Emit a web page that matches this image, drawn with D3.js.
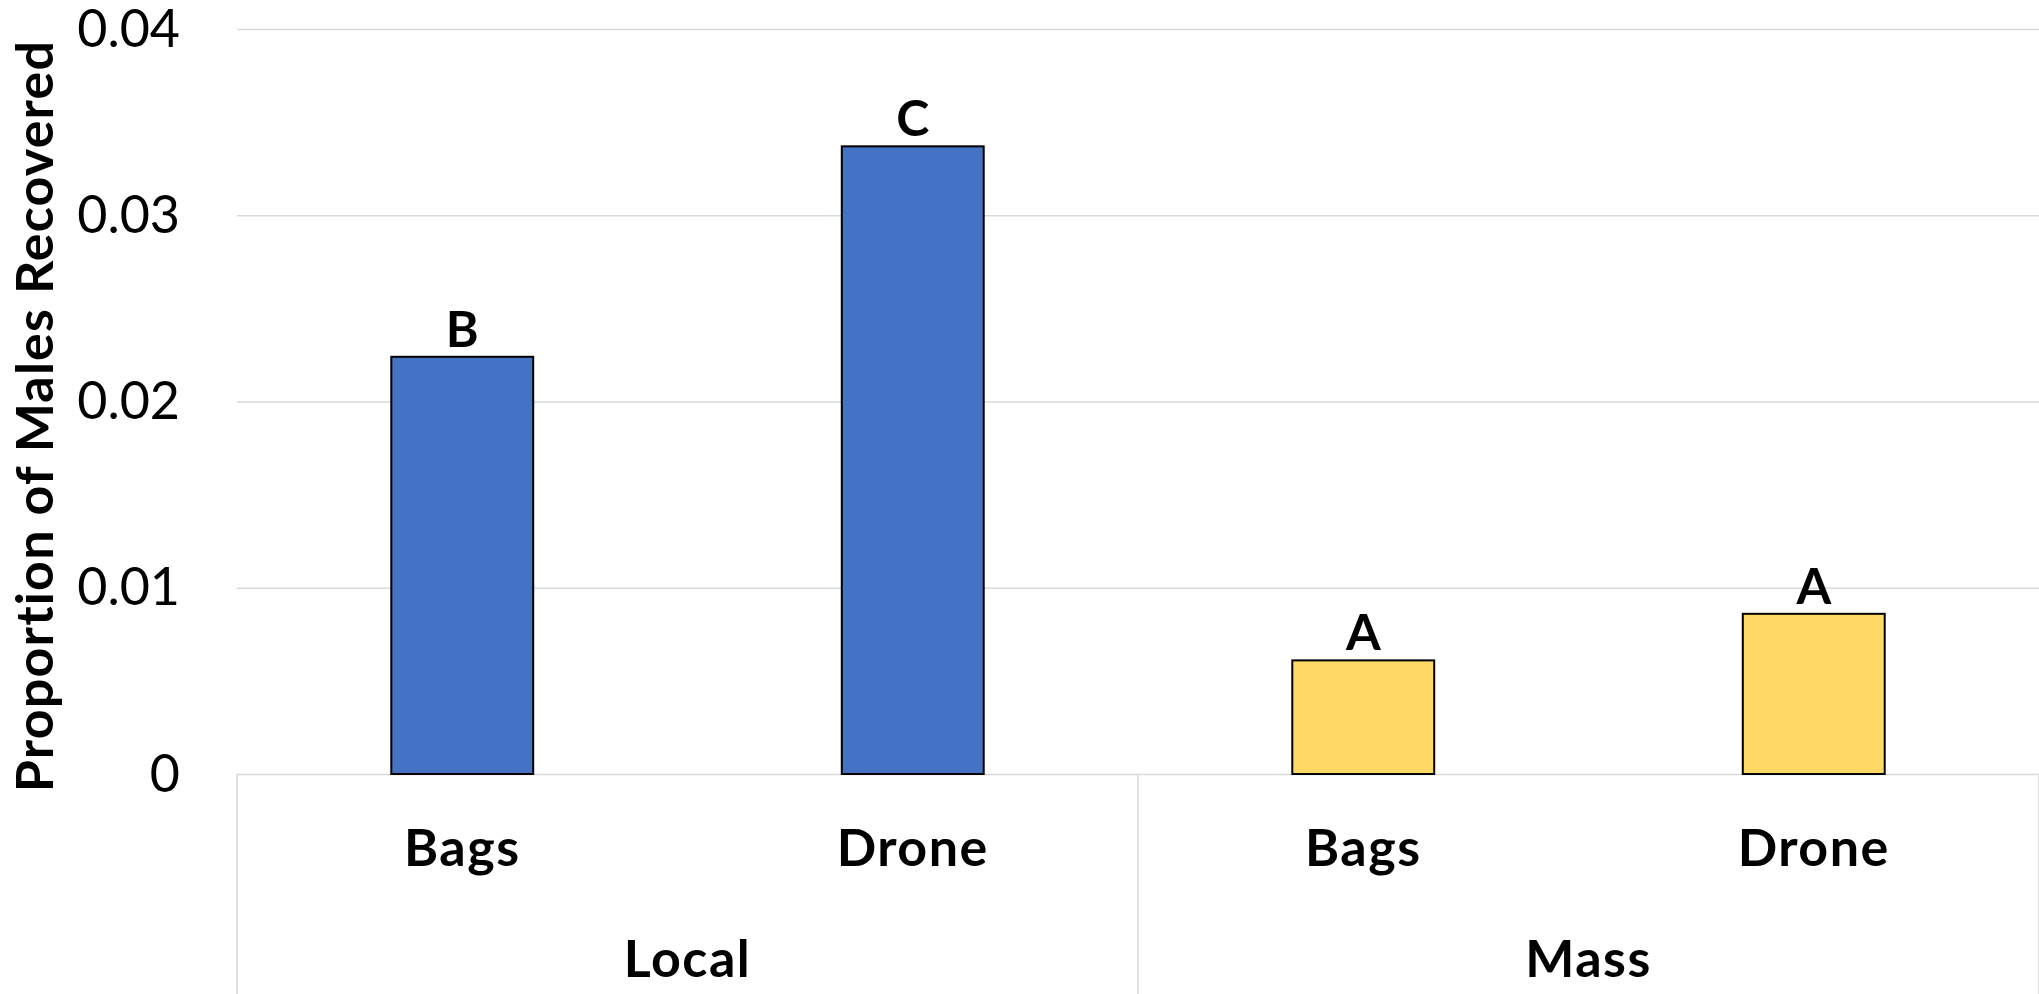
<!DOCTYPE html>
<html>
<head>
<meta charset="utf-8">
<script src="https://cdn.jsdelivr.net/npm/d3@7"></script>
<style>
  html, body { margin: 0; padding: 0; background: #fff; }
  svg { display: block; }
  text { font-family: Lato, "Open Sans", sans-serif; fill: #000; }
</style>
</head>
<body>
<svg id="chart" width="2039" height="994"></svg>
<script>
// Proportion of released males recovered, by release type and collection method
const groups = ["Local", "Mass"];
const methods = ["Bags", "Drone"];
const categories = ["Local|Bags", "Local|Drone", "Mass|Bags", "Mass|Drone"];
const values = [0.0224, 0.0337, 0.0061, 0.0086];
const letters = ["B", "C", "A", "A"];
const groupColors = ["#4472C4", "#FFD966"];
const yTicks = [0, 0.01, 0.02, 0.03, 0.04];
const yTickLabels = ["0", "0.01", "0.02", "0.03", "0.04"];
const yTitle = "Proportion of Males Recovered";

const W = 2039, H = 994;
const margin = { left: 237, right: 0, top: 29, bottom: 220 };
const plotW = W - margin.left - margin.right;
const plotH = H - margin.top - margin.bottom;

const svg = d3.select("#chart");
const g = svg.append("g").attr("transform", `translate(${margin.left},${margin.top})`);

const y = d3.scaleLinear().domain([0, 0.04]).range([plotH, 0]);
const x = d3.scaleBand().domain(categories).range([0, plotW])
  .paddingInner(0.685).paddingOuter(0.3425);
const slot = d3.scaleBand().domain(categories).range([0, plotW]).padding(0);
const xGroup = d3.scaleBand().domain(groups).range([0, plotW]).padding(0);

const gridColor = "#d9d9d9";
const labelSize = 52;
const labelSpacing = 1.5;

// horizontal gridlines (the zero line doubles as the category axis line)
const yAxis = d3.axisLeft(y).tickValues(yTicks).tickSize(-plotW)
  .tickFormat((d, i) => yTickLabels[i]);
const ya = g.append("g").call(yAxis);
ya.select(".domain").remove();
ya.selectAll(".tick line").attr("stroke", gridColor).attr("stroke-width", 1.5);
ya.selectAll(".tick text")
  .attr("x", 180 - margin.left)
  .attr("dy", "0.33em")
  .attr("font-size", 52)
  .attr("font-weight", 400)
  .style("font-family", "Lato, 'Open Sans', sans-serif")
  .attr("fill", "#000");

// group separators below the axis
const seps = [0, ...groups.map(gr => xGroup(gr) + xGroup.bandwidth())];
g.selectAll("line.sep").data(seps).enter().append("line")
  .attr("class", "sep")
  .attr("x1", d => d).attr("x2", d => d)
  .attr("y1", plotH).attr("y2", H - margin.top)
  .attr("stroke", gridColor).attr("stroke-width", 1.5);

// bars
const groupOf = c => c.split("|")[0];
const methodOf = c => c.split("|")[1];
g.selectAll("rect.bar").data(categories).enter().append("rect")
  .attr("class", "bar")
  .attr("x", d => x(d))
  .attr("width", x.bandwidth())
  .attr("y", (d, i) => y(values[i]))
  .attr("height", (d, i) => plotH - y(values[i]))
  .attr("fill", d => groupColors[groups.indexOf(groupOf(d))])
  .attr("stroke", "#000")
  .attr("stroke-width", 2);

// significance letters
g.selectAll("text.letter").data(categories).enter().append("text")
  .attr("class", "letter")
  .attr("x", d => x(d) + x.bandwidth() / 2)
  .attr("y", (d, i) => y(values[i]) - 10)
  .attr("text-anchor", "middle")
  .attr("font-size", 50)
  .attr("font-weight", 700)
  .text((d, i) => letters[i]);

// inner category labels
g.selectAll("text.method").data(categories).enter().append("text")
  .attr("class", "method")
  .attr("x", d => slot(d) + slot.bandwidth() / 2)
  .attr("y", plotH + 92)
  .attr("text-anchor", "middle")
  .attr("font-size", labelSize)
  .attr("letter-spacing", labelSpacing)
  .attr("font-weight", 700)
  .text(d => methodOf(d));

// outer group labels
g.selectAll("text.group").data(groups).enter().append("text")
  .attr("class", "group")
  .attr("x", d => xGroup(d) + xGroup.bandwidth() / 2)
  .attr("y", plotH + 203)
  .attr("text-anchor", "middle")
  .attr("font-size", labelSize)
  .attr("letter-spacing", labelSpacing)
  .attr("font-weight", 700)
  .text(d => d);

// y-axis title
svg.append("text")
  .attr("transform", "translate(53,416) rotate(-90)")
  .attr("text-anchor", "middle")
  .attr("font-size", 52)
  .attr("letter-spacing", 1.2)
  .attr("font-weight", 700)
  .text(yTitle);
</script>
</body>
</html>
